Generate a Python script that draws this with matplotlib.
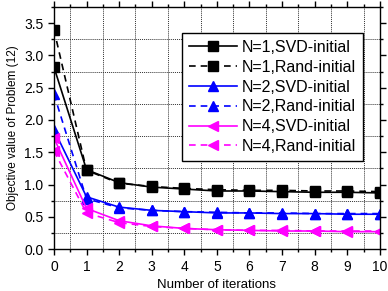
import matplotlib.pyplot as plt
import numpy as np
from matplotlib.ticker import MultipleLocator

plt.rcParams['font.family'] = ['Liberation Sans', 'DejaVu Sans']

iters = np.arange(0, 11)
n1_svd = [2.82, 1.23, 1.03, 0.96, 0.93, 0.90, 0.90, 0.89, 0.88, 0.88, 0.87]
n1_rand = [3.40, 1.22, 1.02, 0.97, 0.94, 0.92, 0.91, 0.91, 0.90, 0.90, 0.89]
n2_svd = [1.85, 0.81, 0.65, 0.60, 0.58, 0.56, 0.56, 0.55, 0.55, 0.54, 0.54]
n2_rand = [2.40, 0.78, 0.64, 0.60, 0.58, 0.57, 0.56, 0.56, 0.55, 0.55, 0.55]
n4_svd = [1.72, 0.63, 0.44, 0.36, 0.32, 0.30, 0.29, 0.28, 0.28, 0.27, 0.27]
n4_rand = [1.52, 0.56, 0.41, 0.35, 0.32, 0.30, 0.29, 0.29, 0.28, 0.28, 0.28]
labels = ["N=1,SVD-initial", "N=1,Rand-initial", "N=2,SVD-initial",
          "N=2,Rand-initial", "N=4,SVD-initial", "N=4,Rand-initial"]

fig, ax = plt.subplots(figsize=(3.88, 2.91), dpi=100)
fig.subplots_adjust(left=0.139, right=0.979, bottom=0.144, top=0.976)

series = [(n1_svd, "k", "s", "-"), (n1_rand, "k", "s", "--"),
          (n2_svd, "b", "^", "-"), (n2_rand, "b", "^", "--"),
          (n4_svd, "#ff00ff", "<", "-"), (n4_rand, "#ff00ff", "<", "--")]
for (vals, c, m, ls), lab in zip(series, labels):
    ax.plot(iters, vals, color=c, marker=m, linestyle=ls, linewidth=1.2,
            markersize=7, label=lab, dashes=(4, 3) if ls == "--" else (None, None))

ax.set_xlim(0, 10); ax.set_ylim(0, 3.75)
ax.xaxis.set_major_locator(MultipleLocator(1)); ax.xaxis.set_minor_locator(MultipleLocator(0.5))
ax.yaxis.set_major_locator(MultipleLocator(0.5)); ax.yaxis.set_minor_locator(MultipleLocator(0.25))
ax.grid(True, which="minor", linestyle=(0, (1, 1)), color="#333333", linewidth=0.7)
ax.tick_params(which="both", labelsize=10, top=True, right=True, direction="out", width=1)
ax.tick_params(which="major", length=4); ax.tick_params(which="minor", length=2)
for s in ax.spines.values(): s.set_linewidth(1)
ax.set_xlabel("Number of iterations", fontsize=9.5)
ax.set_ylabel("Objective value of Problem (12)", fontsize=8.5)
leg = ax.legend(loc="upper right", fontsize=11.5, fancybox=False, edgecolor="k",
                framealpha=1, handlelength=3, handletextpad=0.3, borderpad=0.45,
                labelspacing=0.3, bbox_to_anchor=(0.948, 0.893), borderaxespad=0)
leg.get_frame().set_linewidth(1)
plt.savefig("out.png", dpi=100)
